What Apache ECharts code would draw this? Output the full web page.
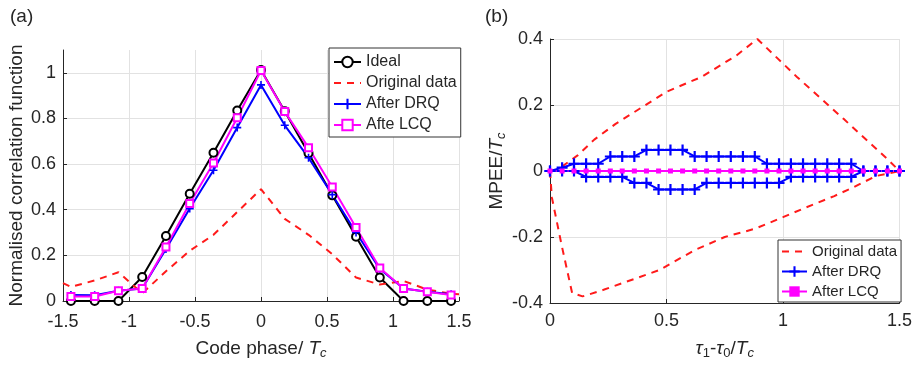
<!DOCTYPE html>
<html><head><meta charset="utf-8">
<script src="https://cdn.jsdelivr.net/npm/echarts@6/dist/echarts.min.js"></script>
<style>html,body{margin:0;padding:0;background:#fff}#c{width:915px;height:365px}</style>
</head><body><div id="c"></div>
<script>
// ---- Panel (a) data ----
const codePhase = [-1.44,-1.26,-1.08,-0.9,-0.72,-0.54,-0.36,-0.18,0,0.18,0.36,0.54,0.72,0.9,1.08,1.26,1.44];
const idealVals = [0,0,0,0.105,0.285,0.47,0.65,0.835,1.012,0.832,0.648,0.463,0.282,0.103,0,0,0];
const drqVals   = [0.026,0.025,0.045,0.055,0.228,0.405,0.573,0.76,0.947,0.77,0.628,0.466,0.3,0.14,0.055,0.041,0.03];
const lcqVals   = [0.02,0.02,0.045,0.055,0.237,0.427,0.605,0.803,1.01,0.83,0.672,0.5,0.322,0.145,0.055,0.04,0.026];
const origPhase = [-1.5,-1.44,-1.26,-1.08,-0.9,-0.72,-0.54,-0.36,-0.18,0,0.18,0.36,0.54,0.72,0.9,1.08,1.26,1.44,1.5];
const origVals  = [0.078,0.062,0.09,0.126,0.034,0.13,0.22,0.29,0.39,0.49,0.36,0.29,0.205,0.103,0.072,0.088,0.05,0.032,0.03];

// ---- Panel (b) data ----
const tauGrid = [0,0.052,0.103,0.155,0.207,0.259,0.31,0.362,0.414,0.466,0.517,0.569,0.621,0.672,0.724,0.776,0.828,0.879,0.931,0.983,1.034,1.086,1.138,1.19,1.241,1.293,1.345,1.397,1.448,1.5];
const drqUpper = [0,0.01,0.022,0.022,0.022,0.044,0.044,0.044,0.064,0.064,0.064,0.064,0.044,0.044,0.044,0.044,0.044,0.044,0.022,0.022,0.022,0.022,0.022,0.022,0.022,0.022,0,0,0,0];
const drqLower = [0,0,0,-0.018,-0.018,-0.018,-0.018,-0.036,-0.036,-0.056,-0.056,-0.056,-0.056,-0.036,-0.036,-0.036,-0.036,-0.036,-0.036,-0.036,-0.018,-0.018,-0.018,-0.018,-0.018,-0.018,0,0,0,0];
const lcqMpee  = [0,0,0,0,0,0,0,0,0,0,0,0,0,0,0,0,0,0,0,0,0,0,0,0,0,0,0,0,0,0];
const origUpperX = [0,0.035,0.12,0.19,0.28,0.5,0.65,0.8,0.89,1.06,1.26,1.45,1.5];
const origUpperY = [0,0.005,0.048,0.095,0.142,0.24,0.285,0.35,0.4,0.285,0.158,0.035,0];
const origLowerX = [0,0.008,0.05,0.095,0.14,0.23,0.47,0.62,0.75,0.88,1.0,1.1,1.22,1.3,1.4,1.45,1.5];
const origLowerY = [0,-0.08,-0.225,-0.37,-0.38,-0.36,-0.3,-0.24,-0.2,-0.175,-0.14,-0.11,-0.076,-0.05,-0.015,-0.008,0];

const zip = (xs, ys) => xs.map((x, i) => [x, ys[i]]);
const PLUS = 'path://M-2,-10L2,-10L2,-2L10,-2L10,2L2,2L2,10L-2,10L-2,2L-10,2L-10,-2L-2,-2Z';
const FONT = 'Liberation Sans, Arial, sans-serif';
const AX = '#262626';
const GRIDC = '#e2e2e2';
const RED = '#ff1a1a';
const richName = {
  i: {fontStyle: 'italic', fontSize: 19, fontFamily: FONT, color: AX},
  s: {fontStyle: 'italic', fontSize: 13, fontFamily: FONT, color: AX, padding: [9, 0, 0, 0]},
  n: {fontSize: 13, fontFamily: FONT, color: AX, padding: [9, 0, 0, 0]}
};

function axisCommon(extra) {
  return Object.assign({
    type: 'value',
    axisLine: {show: true, onZero: false, lineStyle: {color: AX, width: 1}},
    axisTick: {show: true, inside: true, length: 4, lineStyle: {color: AX}},
    splitLine: {show: true, lineStyle: {color: GRIDC, width: 1}},
    axisLabel: {fontSize: 18, color: AX, fontFamily: FONT},
    nameLocation: 'middle',
    nameTextStyle: {fontSize: 19, color: AX, fontFamily: FONT, rich: richName}
  }, extra);
}

const chart = echarts.init(document.getElementById('c'));
chart.setOption({
  animation: false,
  backgroundColor: '#fff',
  textStyle: {fontFamily: FONT},
  title: [
    {text: '(a)', left: 5, top: 2, textStyle: {fontSize: 19, fontWeight: 'normal', color: AX, fontFamily: FONT}},
    {text: '(b)', left: 480, top: 2, textStyle: {fontSize: 19, fontWeight: 'normal', color: AX, fontFamily: FONT}}
  ],
  grid: [
    {left: 63, top: 50, width: 396, height: 251},
    {left: 550, top: 39, width: 353, height: 264}
  ],
  xAxis: [
    axisCommon({gridIndex: 0, min: -1.5, max: 1.5, interval: 0.5,
      axisLabel: {fontSize: 18, color: AX, fontFamily: FONT, margin: 12},
      name: 'Code phase/ {i|T}{s|c}', nameGap: 37}),
    axisCommon({gridIndex: 1, min: 0, max: 1.5, interval: 0.5,
      axisLabel: {fontSize: 18, color: AX, fontFamily: FONT, margin: 9},
      name: '{i|τ}{n|1}-{i|τ}{n|0}/{i|T}{s|c}', nameGap: 35})
  ],
  yAxis: [
    axisCommon({gridIndex: 0, min: 0, max: 1.1, interval: 0.2,
      axisLabel: {fontSize: 18, color: AX, fontFamily: FONT, margin: 7, showMaxLabel: false},
      splitLine: {show: true, showMaxLine: false, lineStyle: {color: GRIDC, width: 1}},
      name: 'Normalised correlation function', nameGap: 37}),
    axisCommon({gridIndex: 1, min: -0.4, max: 0.4, interval: 0.2,
      axisLabel: {fontSize: 18, color: AX, fontFamily: FONT, margin: 7},
      name: 'MPEE/{i|T}{s|c}', nameGap: 42})
  ],
  legend: [
    {data: ['Ideal', {name: 'Original data', itemStyle: {opacity: 0}}, 'After DRQ', 'Afte LCQ'], orient: 'vertical',
     left: 329, top: 48, itemWidth: 27, itemHeight: 13, itemGap: 5,
     padding: [6, 4, 4, 4], borderColor: '#333', borderWidth: 1, backgroundColor: '#fff',
     textStyle: {fontSize: 16, lineHeight: 16, color: AX, fontFamily: FONT}},
    {data: [{name: 'Original data', itemStyle: {opacity: 0}}, 'After DRQ', 'After LCQ'], orient: 'vertical',
     left: 778, top: 240, itemWidth: 25, itemHeight: 13, itemGap: 5,
     padding: [4, 4, 3, 3], borderColor: '#333', borderWidth: 1, backgroundColor: '#fff',
     textStyle: {fontSize: 15, lineHeight: 15, color: AX, fontFamily: FONT}}
  ],
  series: [
    {name: 'Ideal', type: 'line', xAxisIndex: 0, yAxisIndex: 0, data: zip(codePhase, idealVals),
     symbol: 'emptyCircle', symbolSize: 8, lineStyle: {color: '#000', width: 2},
     itemStyle: {color: '#000', borderWidth: 1.5}},
    {name: 'Original data', type: 'line', xAxisIndex: 0, yAxisIndex: 0, data: zip(origPhase, origVals),
     symbol: 'none', lineStyle: {color: RED, width: 2, type: [7, 6]}, itemStyle: {color: RED}},
    {name: 'After DRQ', type: 'line', xAxisIndex: 0, yAxisIndex: 0, data: zip(codePhase, drqVals),
     symbol: PLUS, symbolSize: 8, lineStyle: {color: '#0000ff', width: 2}, itemStyle: {color: '#0000ff'}},
    {name: 'Afte LCQ', type: 'line', xAxisIndex: 0, yAxisIndex: 0, data: zip(codePhase, lcqVals),
     symbol: 'emptyRect', symbolSize: 7, lineStyle: {color: '#ff00ff', width: 2},
     itemStyle: {color: '#ff00ff', borderWidth: 1.5}},

    {name: 'Original data', type: 'line', xAxisIndex: 1, yAxisIndex: 1, data: zip(origUpperX, origUpperY),
     symbol: 'none', lineStyle: {color: RED, width: 2, type: [7, 6]}, itemStyle: {color: RED}},
    {name: 'Original data', type: 'line', xAxisIndex: 1, yAxisIndex: 1, data: zip(origLowerX, origLowerY),
     symbol: 'none', lineStyle: {color: RED, width: 2, type: [7, 6]}, itemStyle: {color: RED}},
    {name: 'After DRQ', type: 'line', xAxisIndex: 1, yAxisIndex: 1, data: zip(tauGrid, drqUpper),
     symbol: PLUS, symbolSize: 11, lineStyle: {color: '#0000ff', width: 2}, itemStyle: {color: '#0000ff'}},
    {name: 'After DRQ', type: 'line', xAxisIndex: 1, yAxisIndex: 1, data: zip(tauGrid, drqLower),
     symbol: PLUS, symbolSize: 11, lineStyle: {color: '#0000ff', width: 2}, itemStyle: {color: '#0000ff'}},
    {name: 'After LCQ', type: 'line', xAxisIndex: 1, yAxisIndex: 1, data: zip(tauGrid, lcqMpee),
     symbol: 'rect', symbolSize: 5, lineStyle: {color: '#ff00ff', width: 2}, itemStyle: {color: '#ff00ff'}}
  ]
});
</script>
</body></html>
